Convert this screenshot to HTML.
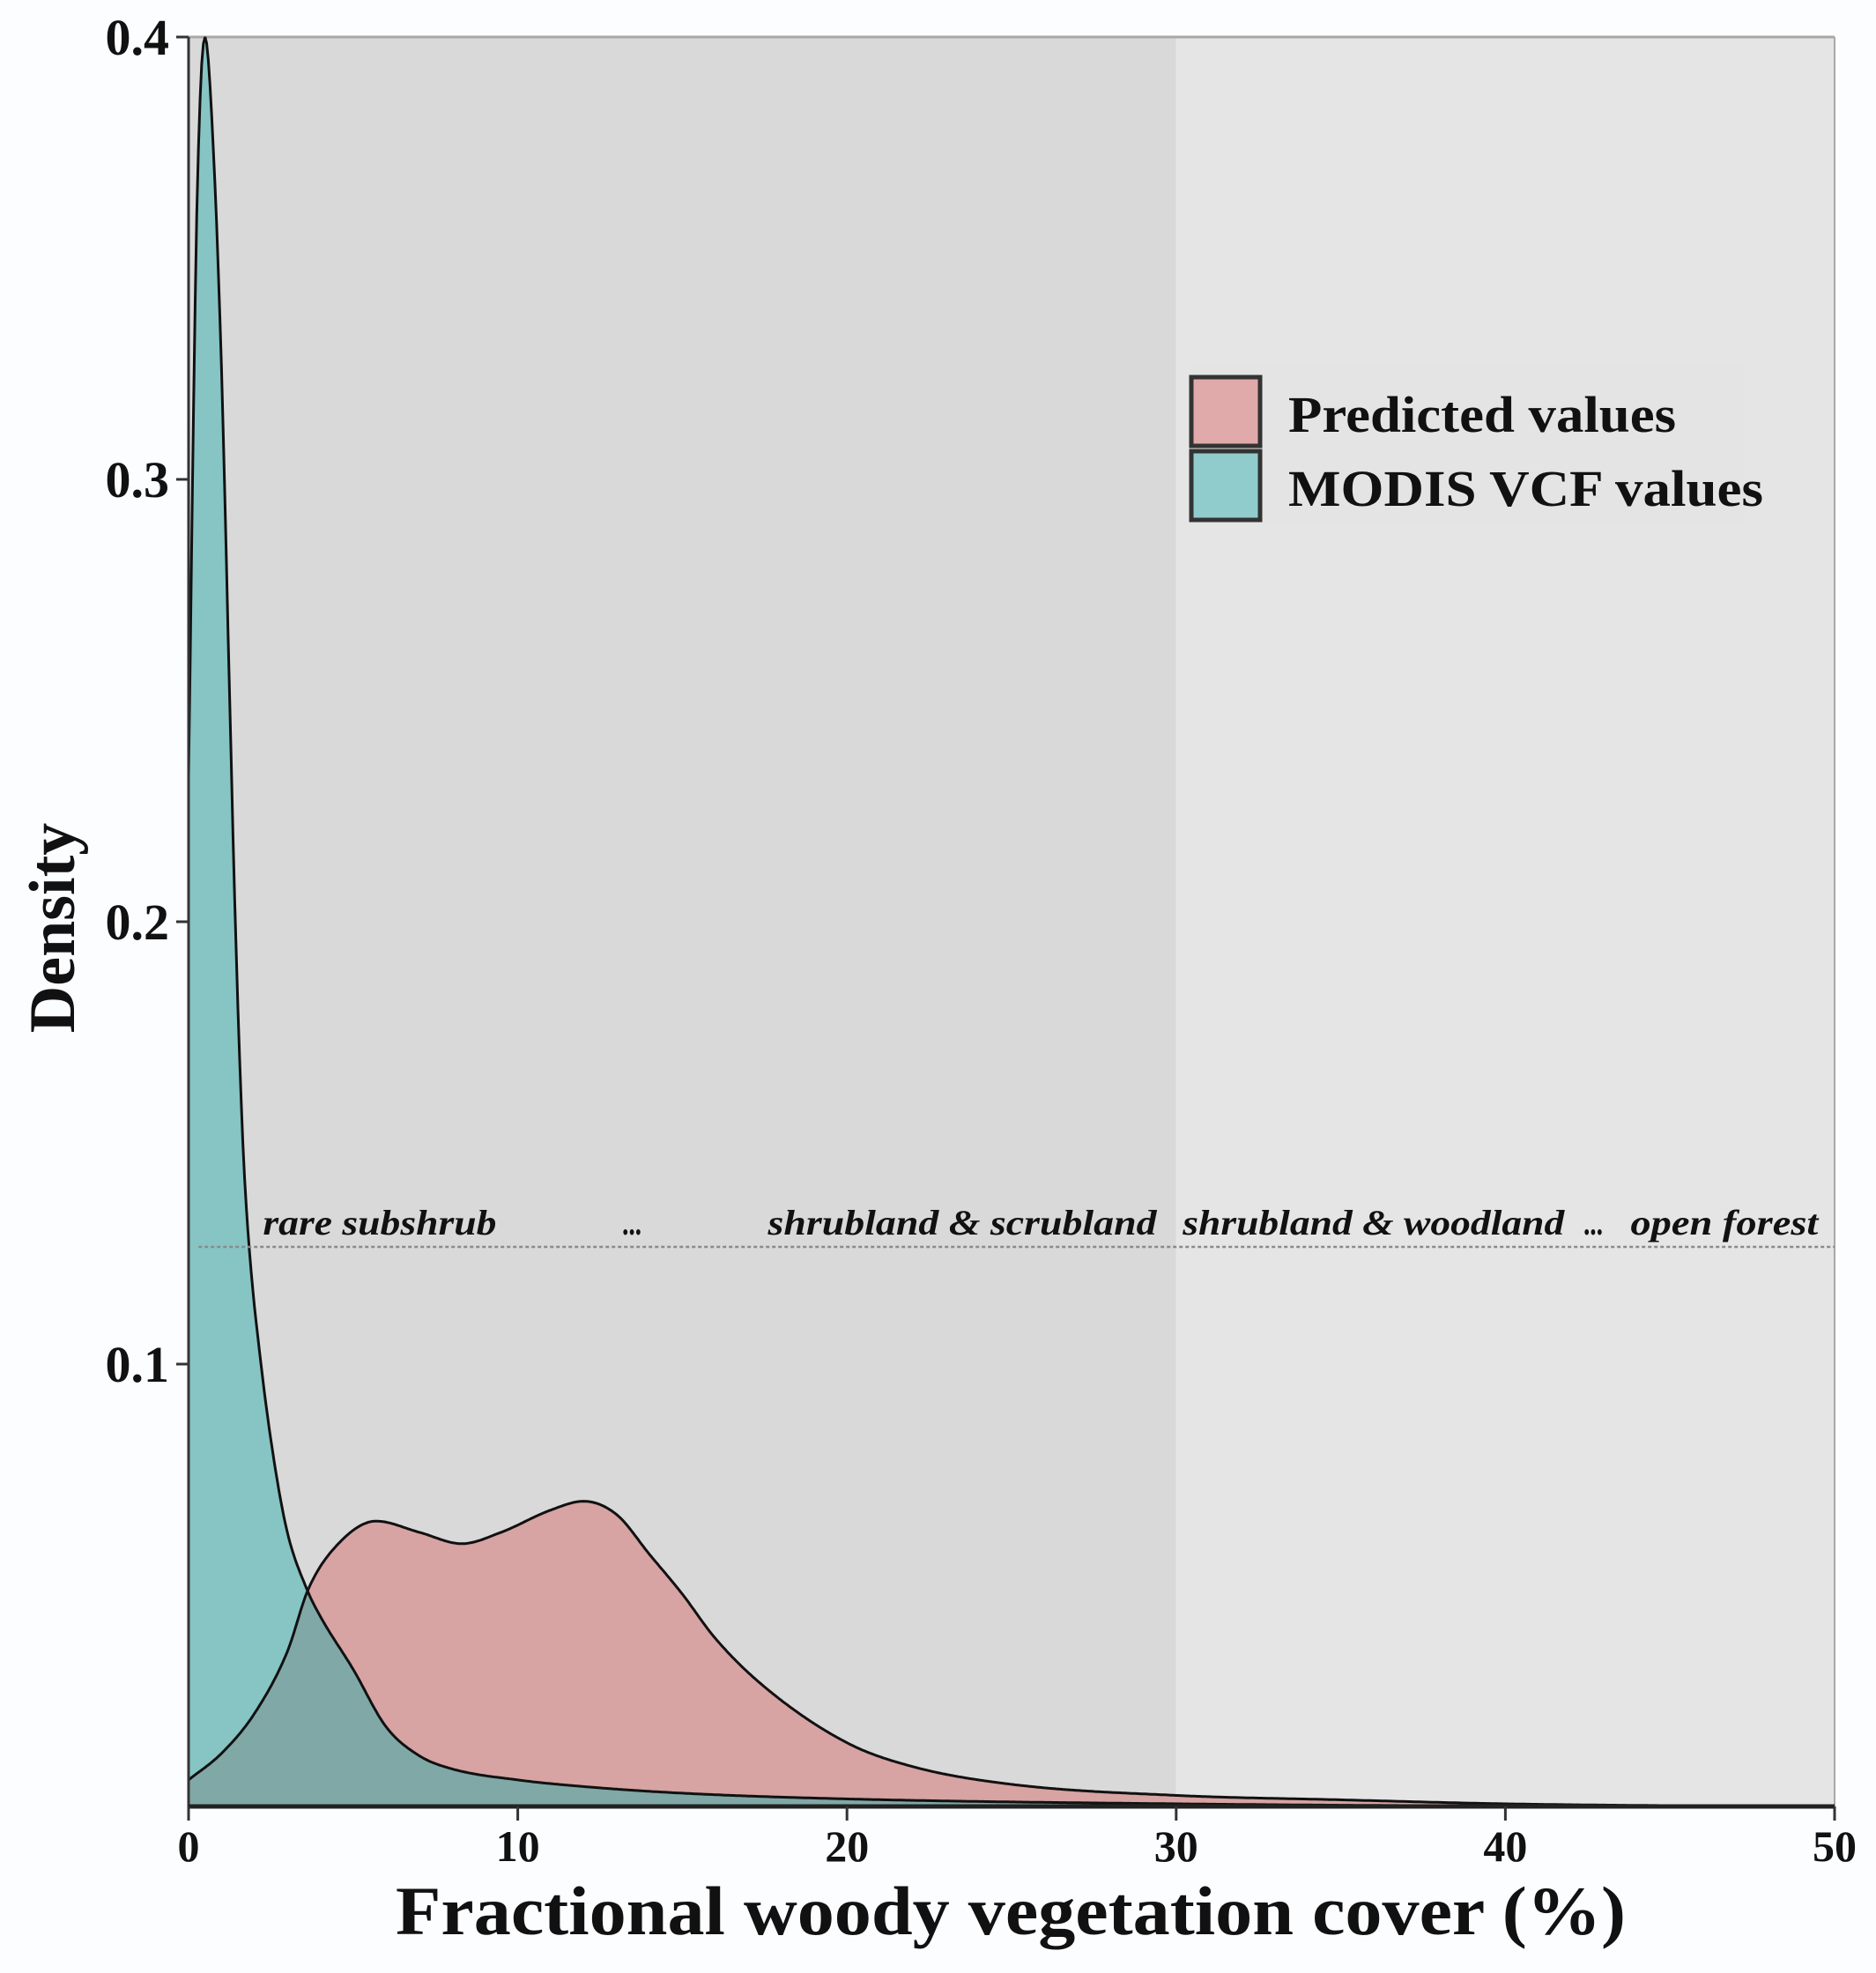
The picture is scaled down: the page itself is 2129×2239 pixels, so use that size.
<!DOCTYPE html>
<html><head><meta charset="utf-8"><style>
html,body{margin:0;padding:0;background:#fcfdff;}
svg{display:block;font-family:"Liberation Serif",serif;}
</style></head><body>
<svg id="chart" width="2129" height="2239" viewBox="0 0 2129 2239">
<rect x="0" y="0" width="2129" height="2239" fill="#fcfdff"/>
<g id="plot"></g>
</svg>
<script>
const xTicks = [0, 10, 20, 30, 40, 50];
const yTicks = [0.1, 0.2, 0.3, 0.4];
const modisX = [0, 0.25, 0.5, 0.75, 1, 1.25, 1.42, 1.65, 1.84, 2.2, 2.6, 3, 3.6, 4, 5, 6, 7, 8, 10, 12, 15, 20, 30, 40, 50];
const modisY = [0.233, 0.36, 0.4, 0.375, 0.325, 0.25, 0.2, 0.15, 0.1265, 0.1, 0.078, 0.062, 0.049, 0.043, 0.031, 0.018, 0.0115, 0.0085, 0.006, 0.0045, 0.003, 0.0017, 0.0006, 0.0001, 0];
const predX = [0, 1, 2, 3, 3.63, 4.5, 5.7, 7, 8.3, 9.5, 11, 12, 13, 14, 15, 16, 17.5, 20, 22, 25, 30, 35, 40, 48];
const predY = [0.006, 0.012, 0.021, 0.035, 0.049, 0.059, 0.0645, 0.062, 0.0594, 0.062, 0.067, 0.069, 0.066, 0.057, 0.048, 0.038, 0.027, 0.0144, 0.009, 0.005, 0.0025, 0.0015, 0.0006, 0];
const zoneLabels = ["rare subshrub", "...", "shrubland & scrubland", "shrubland & woodland", "...", "open forest"];
const zoneStart = [2.26, 13.2, 17.6, 30.2, 42.4, 43.8];
const zoneWidth = [7.1, 0.6, 11.8, 11.6, 0.6, 5.7];
const legendLabels = ["Predicted values", "MODIS VCF values"];
const dividerX = 30;
const refLineY = 0.1265;

const L=214, R=2082, T=42, B=2050;
const xs = v => L + (v/50)*(R-L);
const ys = v => B - (v/0.4)*(B-T);
const NS="http://www.w3.org/2000/svg";
const g=document.getElementById('plot');
function mk(tag, attrs, parent){const e=document.createElementNS(NS,tag);for(const k in attrs)e.setAttribute(k,attrs[k]);(parent||g).appendChild(e);return e;}

function monotone(X,Y){
  const n=X.length, d=[], m=[];
  for(let i=0;i<n-1;i++) d.push((Y[i+1]-Y[i])/(X[i+1]-X[i]));
  m[0]=d[0]; m[n-1]=d[n-2];
  for(let i=1;i<n-1;i++){ m[i]=(d[i-1]*d[i]<=0)?0:(d[i-1]+d[i])/2; }
  for(let i=0;i<n-1;i++){ if(d[i]===0){m[i]=0;m[i+1]=0;continue;} const a=m[i]/d[i],b=m[i+1]/d[i],s=a*a+b*b; if(s>9){const t=3/Math.sqrt(s);m[i]=t*a*d[i];m[i+1]=t*b*d[i];} }
  return function(x){
    if(x<=X[0])return Y[0]; if(x>=X[n-1])return Y[n-1];
    let i=0; while(x>X[i+1])i++;
    const h=X[i+1]-X[i], t=(x-X[i])/h, t2=t*t, t3=t2*t;
    return (2*t3-3*t2+1)*Y[i]+(t3-2*t2+t)*h*m[i]+(-2*t3+3*t2)*Y[i+1]+(t3-t2)*h*m[i+1];
  };
}
const fM=monotone(modisX,modisY), fP=monotone(predX,predY);
const pts=[]; for(let v=0;v<=50.0001;v+=0.05) pts.push(v);
const mEnd=modisX[modisX.length-1], pEnd=predX[predX.length-1];

let e;
e=mk('rect',{x:L,y:T,width:xs(dividerX)-L,height:B-T,fill:'#d9d9d9'});


e=mk('rect',{x:xs(dividerX),y:T,width:R-xs(dividerX),height:B-T,fill:'#e5e5e5'});


e=mk('line',{x1:L,y1:T,x2:R,y2:T,stroke:'#a8a8a8','stroke-width':3});


e=mk('line',{x1:R,y1:T,x2:R,y2:B,stroke:'#a8a8a8','stroke-width':2});



function areaPath(f,end){
  let d='M'+xs(0)+','+ys(0);
  pts.filter(v=>v<=end).forEach(v=>{d+=' L'+xs(v).toFixed(1)+','+ys(Math.max(0,f(v))).toFixed(1);});
  d+=' L'+xs(end)+','+ys(0)+' Z'; return d;
}
function linePath(f,end){
  let d=''; pts.filter(v=>v<=end).forEach((v,i)=>{d+=(i?' L':'M')+xs(v).toFixed(1)+','+ys(Math.max(0,f(v))).toFixed(1);}); return d;
}
e=mk('path',{d:areaPath(fM,mEnd),fill:'#87c4c4'});


e=mk('path',{d:areaPath(fP,pEnd),fill:'#d7a3a3'});


e=mk('path',{d:areaPath(v=>Math.min(fM(v),fP(v)),Math.min(mEnd,pEnd)),fill:'#80a8a7'});


e=mk('path',{d:linePath(fP,pEnd),fill:'none',stroke:'#111','stroke-width':3});


e=mk('path',{d:linePath(fM,mEnd),fill:'none',stroke:'#111','stroke-width':3});



e=mk('line',{x1:xs(0.3),y1:ys(refLineY),x2:R,y2:ys(refLineY),stroke:'#8a8a8a','stroke-width':2.5,'stroke-dasharray':'4,3'});


zoneLabels.forEach((s,i)=>{
  const t=mk('text',{x:xs(zoneStart[i]),y:ys(refLineY)-14,'font-size':40,'font-weight':'bold','font-style':'italic',fill:'#111',textLength:(xs(zoneWidth[i])-L).toFixed(0),lengthAdjust:'spacingAndGlyphs'});
  t.textContent=s;
  
  
});

e=mk('line',{x1:L,y1:T,x2:L,y2:B,stroke:'#333','stroke-width':3});


e=mk('line',{x1:L,y1:B,x2:R,y2:B,stroke:'#222','stroke-width':5});


yTicks.forEach(v=>{
  const tk=mk('line',{x1:L-14,y1:ys(v),x2:L,y2:ys(v),stroke:'#333','stroke-width':3});
  
  
  const t=mk('text',{x:L-22,y:ys(v)+20,'font-size':58,'font-weight':'bold','text-anchor':'end',fill:'#111'});
  t.textContent=v.toFixed(1);
  
  
});
xTicks.forEach(v=>{
  const tk=mk('line',{x1:xs(v),y1:B,x2:xs(v),y2:B+16,stroke:'#333','stroke-width':3});
  
  
  const t=mk('text',{x:xs(v),y:B+62,'font-size':50,'font-weight':'bold','text-anchor':'middle',fill:'#111'});
  t.textContent=String(v);
  
  
});
e=mk('text',{x:449,y:2195,'font-size':78,'font-weight':'bold',fill:'#111',textLength:1396,lengthAdjust:'spacingAndGlyphs'});
e.textContent='Fractional woody vegetation cover (%)';


e=mk('text',{x:0,y:0,'font-size':74,'font-weight':'bold',fill:'#111','text-anchor':'middle',transform:'translate(84,1053) rotate(-90)'});
e.textContent='Density';



e=mk('rect',{x:1350,y:415,width:630,height:180,fill:'#e4e4e4'});


const legCols=['#e1aaaa','#91cccc'];
legendLabels.forEach((s,i)=>{
  const y0=428+i*84;
  const r=mk('rect',{x:1352,y:y0,width:78,height:78,fill:legCols[i],stroke:'#333','stroke-width':5});
  
  
  const t=mk('text',{x:1462,y:y0+62,'font-size':58,'font-weight':'bold',fill:'#111',textLength:[440,539][i],lengthAdjust:'spacingAndGlyphs'});
  t.textContent=s;
  
  
});
</script>
</body></html>
